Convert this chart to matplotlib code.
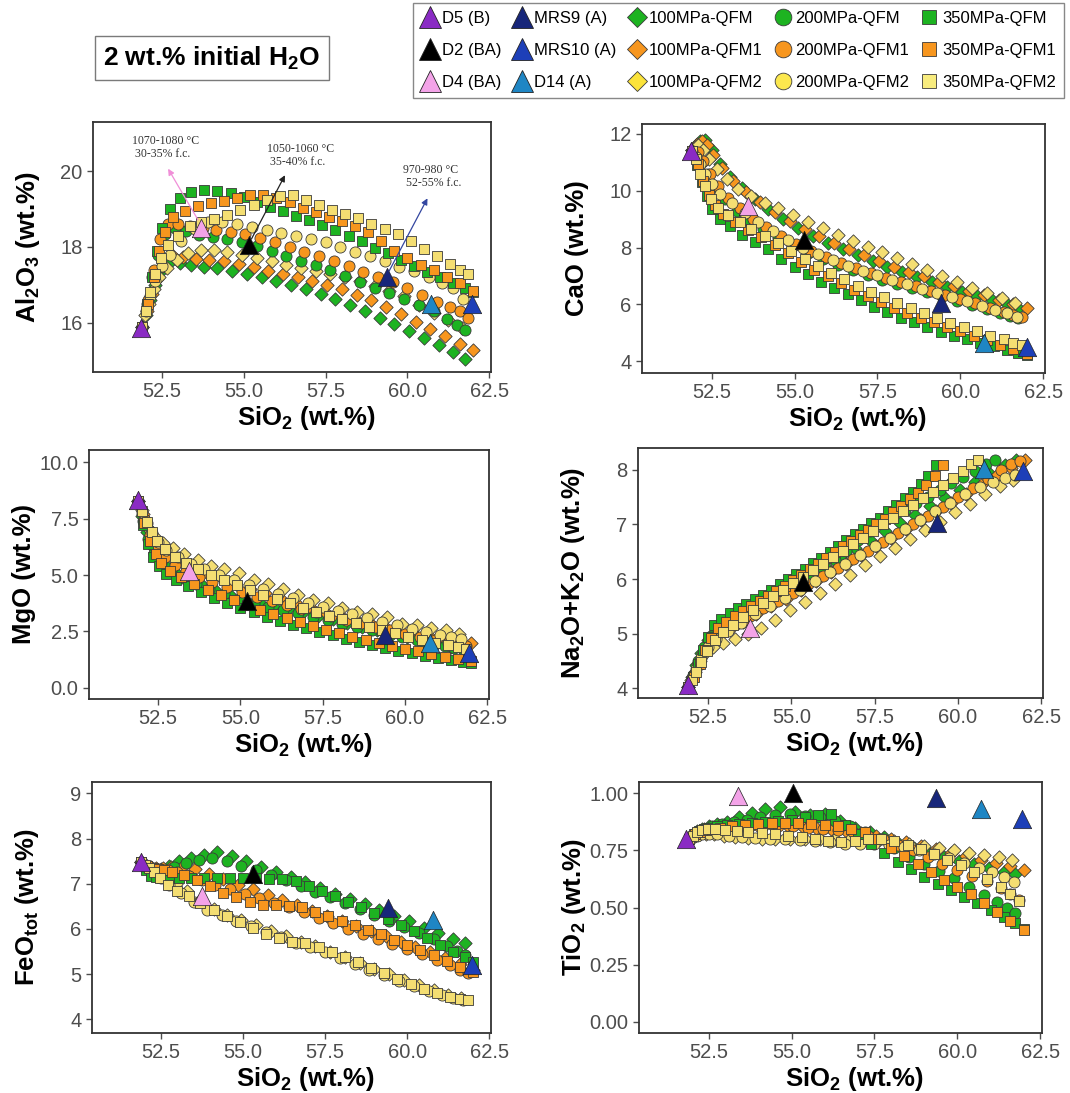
import matplotlib
matplotlib.use('Agg')
import matplotlib.pyplot as plt
from matplotlib.lines import Line2D

plt.rcParams['font.family'] = ['Liberation Sans', 'DejaVu Sans']
plt.rcParams['mathtext.fontset'] = 'custom'
plt.rcParams['mathtext.rm'] = 'Liberation Sans:bold'
plt.rcParams['mathtext.default'] = 'rm'

# SiO2 of each model step (shared by all panels)
si_100_q0 = [51.9, 52.02, 52.15, 52.3, 52.5, 52.75, 53.05, 53.4, 53.8, 54.2, 54.65, 55.1, 55.55, 56.0, 56.45, 56.9, 57.35, 57.8, 58.25, 58.7, 59.15, 59.6, 60.05, 60.5, 60.95, 61.4, 61.75]
si_100_q1 = [51.9, 52.05, 52.2, 52.35, 52.55, 52.8, 53.15, 53.55, 53.95, 54.4, 54.85, 55.3, 55.75, 56.2, 56.65, 57.1, 57.55, 58.0, 58.45, 58.9, 59.35, 59.8, 60.25, 60.7, 61.15, 61.6, 62.0]
si_100_q2 = [51.9, 52.0, 52.1, 52.25, 52.42, 52.65, 52.95, 53.3, 53.7, 54.1, 54.5, 54.95, 55.4, 55.85, 56.3, 56.75, 57.2, 57.65, 58.1, 58.55, 59.0, 59.45, 59.9, 60.35, 60.8, 61.25, 61.65]
si_200_q0 = [51.9, 52.05, 52.2, 52.38, 52.6, 52.9, 53.25, 53.65, 54.05, 54.5, 54.95, 55.4, 55.85, 56.3, 56.75, 57.2, 57.65, 58.1, 58.55, 59.0, 59.45, 59.9, 60.35, 60.8, 61.2, 61.5, 61.75]
si_200_q1 = [51.9, 52.08, 52.25, 52.45, 52.7, 53.0, 53.35, 53.75, 54.15, 54.6, 55.05, 55.5, 55.95, 56.4, 56.85, 57.3, 57.75, 58.2, 58.65, 59.1, 59.55, 60.0, 60.45, 60.9, 61.3, 61.6, 61.85]
si_200_q2 = [51.9, 52.02, 52.15, 52.3, 52.5, 52.75, 53.1, 53.5, 53.9, 54.35, 54.8, 55.25, 55.7, 56.15, 56.6, 57.05, 57.5, 57.95, 58.4, 58.85, 59.3, 59.75, 60.2, 60.65, 61.05, 61.4, 61.7]
si_350_q0 = [51.9, 52.05, 52.2, 52.35, 52.52, 52.75, 53.05, 53.4, 53.8, 54.2, 54.6, 55.0, 55.4, 55.8, 56.2, 56.6, 57.0, 57.4, 57.8, 58.2, 58.6, 59.0, 59.4, 59.8, 60.2, 60.6, 61.0, 61.4, 61.75, 62.0]
si_350_q1 = [51.9, 52.08, 52.25, 52.42, 52.6, 52.85, 53.2, 53.6, 54.0, 54.4, 54.8, 55.2, 55.6, 56.0, 56.4, 56.8, 57.2, 57.6, 58.0, 58.4, 58.8, 59.2, 59.6, 60.0, 60.4, 60.8, 61.2, 61.6, 62.0]
si_350_q2 = [51.9, 52.02, 52.15, 52.3, 52.48, 52.7, 53.0, 53.35, 53.7, 54.1, 54.5, 54.9, 55.3, 55.7, 56.1, 56.5, 56.9, 57.3, 57.7, 58.1, 58.5, 58.9, 59.3, 59.7, 60.1, 60.5, 60.9, 61.3, 61.6, 61.85]

# SiO2 steps as drawn in the Na2O+K2O panel where they differ
na_si_200_q0 = [51.9, 52.05, 52.2, 52.38, 52.6, 52.85, 53.15, 53.5, 53.85, 54.2, 54.55, 54.9, 55.25, 55.6, 55.95, 56.3, 56.65, 57.0, 57.35, 57.7, 58.05, 58.4, 58.75, 59.1, 59.45, 59.8, 60.15, 60.5, 60.85, 61.1]
na_si_350_q0 = [51.9, 52.05, 52.2, 52.35, 52.5, 52.68, 52.9, 53.15, 53.4, 53.65, 53.9, 54.15, 54.4, 54.65, 54.9, 55.15, 55.4, 55.65, 55.9, 56.15, 56.4, 56.65, 56.9, 57.15, 57.4, 57.65, 57.9, 58.15, 58.4, 58.65, 58.9, 59.1, 59.35]
na_si_350_q1 = [51.9, 52.08, 52.25, 52.42, 52.6, 52.8, 53.05, 53.3, 53.55, 53.8, 54.05, 54.3, 54.55, 54.8, 55.05, 55.3, 55.55, 55.8, 56.05, 56.3, 56.55, 56.8, 57.05, 57.3, 57.55, 57.8, 58.05, 58.3, 58.55, 58.8, 59.05, 59.3, 59.55]
na_si_350_q2 = [51.9, 52.02, 52.15, 52.3, 52.48, 52.7, 52.95, 53.25, 53.55, 53.85, 54.15, 54.45, 54.75, 55.05, 55.35, 55.65, 55.95, 56.25, 56.55, 56.85, 57.15, 57.45, 57.75, 58.05, 58.35, 58.65, 58.95, 59.25, 59.55, 59.85, 60.15, 60.4, 60.6]

# Al2O3
al_100_q0 = [15.9, 16.2, 16.6, 17.0, 17.4, 17.6, 17.58, 17.53, 17.48, 17.44, 17.37, 17.29, 17.2, 17.1, 17.0, 16.9, 16.77, 16.62, 16.47, 16.3, 16.12, 15.96, 15.77, 15.6, 15.4, 15.22, 15.05]
al_100_q1 = [15.9, 16.3, 16.75, 17.15, 17.5, 17.78, 17.74, 17.69, 17.66, 17.62, 17.56, 17.46, 17.37, 17.3, 17.2, 17.1, 16.99, 16.88, 16.74, 16.6, 16.42, 16.22, 16.03, 15.84, 15.64, 15.45, 15.28]
al_100_q2 = [15.9, 16.2, 16.5, 16.9, 17.2, 17.45, 17.65, 17.85, 17.93, 17.91, 17.86, 17.78, 17.7, 17.62, 17.52, 17.45, 17.37, 17.29, 17.21, 17.1, 16.98, 16.85, 16.7, 16.48, 16.26, 16.07, 15.85]
al_200_q0 = [15.9, 16.5, 17.2, 17.8, 18.35, 18.5, 18.42, 18.33, 18.27, 18.2, 18.12, 18.02, 17.9, 17.76, 17.63, 17.52, 17.39, 17.23, 17.08, 16.93, 16.78, 16.62, 16.46, 16.3, 16.1, 15.95, 15.8]
al_200_q1 = [15.9, 16.6, 17.4, 18.2, 18.62, 18.6, 18.56, 18.5, 18.45, 18.4, 18.35, 18.25, 18.13, 18.0, 17.86, 17.75, 17.62, 17.5, 17.35, 17.2, 17.08, 16.92, 16.72, 16.56, 16.42, 16.3, 16.12]
al_200_q2 = [15.9, 16.3, 16.7, 17.1, 17.5, 17.8, 18.15, 18.48, 18.65, 18.66, 18.6, 18.54, 18.46, 18.38, 18.28, 18.2, 18.12, 17.99, 17.87, 17.76, 17.62, 17.48, 17.36, 17.2, 17.06, 16.92, 16.62]
al_350_q0 = [15.9, 16.5, 17.2, 17.9, 18.5, 19.0, 19.3, 19.45, 19.5, 19.48, 19.42, 19.33, 19.2, 19.05, 18.95, 18.82, 18.7, 18.57, 18.45, 18.3, 18.15, 17.98, 17.83, 17.66, 17.5, 17.35, 17.2, 17.05, 16.92, 16.82]
al_350_q1 = [15.9, 16.5, 17.2, 17.9, 18.4, 18.8, 18.95, 19.08, 19.15, 19.22, 19.3, 19.36, 19.38, 19.3, 19.18, 19.03, 18.92, 18.8, 18.68, 18.55, 18.4, 18.15, 17.9, 17.7, 17.52, 17.38, 17.22, 17.05, 16.85]
al_350_q2 = [15.9, 16.3, 16.8, 17.3, 17.7, 18.05, 18.3, 18.55, 18.65, 18.75, 18.85, 18.98, 19.12, 19.25, 19.35, 19.36, 19.25, 19.1, 18.98, 18.88, 18.76, 18.62, 18.48, 18.35, 18.15, 17.95, 17.75, 17.55, 17.4, 17.28]

# CaO
ca_100_q0 = [11.45, 11.6, 11.75, 11.8, 11.45, 10.95, 10.5, 10.1, 9.7, 9.35, 9.0, 8.7, 8.42, 8.17, 7.95, 7.73, 7.52, 7.32, 7.14, 6.97, 6.8, 6.62, 6.45, 6.3, 6.15, 6.0, 5.88]
ca_100_q1 = [11.45, 11.65, 11.75, 11.6, 11.25, 10.8, 10.35, 9.95, 9.6, 9.25, 8.93, 8.65, 8.4, 8.16, 7.94, 7.73, 7.52, 7.33, 7.15, 6.98, 6.8, 6.63, 6.47, 6.32, 6.16, 6.0, 5.88]
ca_100_q2 = [11.45, 11.55, 11.6, 11.45, 11.1, 10.75, 10.4, 10.05, 9.8, 9.58, 9.4, 9.15, 8.9, 8.68, 8.45, 8.24, 8.02, 7.84, 7.63, 7.43, 7.22, 7.0, 6.8, 6.58, 6.4, 6.22, 6.06]
ca_200_q0 = [11.4, 11.3, 11.0, 10.6, 10.15, 9.7, 9.3, 8.95, 8.65, 8.35, 8.05, 7.8, 7.58, 7.38, 7.2, 7.03, 6.87, 6.72, 6.57, 6.43, 6.28, 6.13, 5.98, 5.84, 5.7, 5.6, 5.52]
ca_200_q1 = [11.4, 11.35, 11.05, 10.6, 10.15, 9.75, 9.38, 9.02, 8.72, 8.42, 8.13, 7.88, 7.66, 7.45, 7.27, 7.1, 6.94, 6.78, 6.63, 6.48, 6.33, 6.18, 6.03, 5.88, 5.74, 5.63, 5.55]
ca_200_q2 = [11.4, 11.2, 10.95, 10.6, 10.25, 9.9, 9.55, 9.2, 8.9, 8.58, 8.28, 8.0, 7.76, 7.55, 7.35, 7.18, 7.02, 6.86, 6.7, 6.55, 6.4, 6.25, 6.1, 5.95, 5.8, 5.68, 5.55]
ca_350_q0 = [11.4, 10.9, 10.3, 9.8, 9.35, 9.0, 8.75, 8.45, 8.2, 7.95, 7.6, 7.3, 7.05, 6.8, 6.58, 6.36, 6.14, 5.92, 5.72, 5.53, 5.37, 5.2, 5.03, 4.88, 4.76, 4.64, 4.52, 4.4, 4.3, 4.22]
ca_350_q1 = [11.4, 10.95, 10.35, 9.85, 9.5, 9.18, 8.9, 8.62, 8.38, 8.1, 7.8, 7.5, 7.22, 6.98, 6.75, 6.52, 6.3, 6.08, 5.88, 5.7, 5.52, 5.36, 5.2, 5.05, 4.9, 4.74, 4.58, 4.42, 4.25]
ca_350_q2 = [11.4, 11.1, 10.6, 10.15, 9.7, 9.4, 9.15, 8.9, 8.65, 8.4, 8.15, 7.88, 7.6, 7.35, 7.1, 6.88, 6.66, 6.45, 6.25, 6.05, 5.88, 5.7, 5.52, 5.35, 5.2, 5.05, 4.9, 4.76, 4.65, 4.55]

# MgO
mg_100_q0 = [8.3, 7.6, 6.9, 6.3, 5.8, 5.4, 5.1, 4.85, 4.6, 4.38, 4.15, 3.95, 3.8, 3.62, 3.48, 3.35, 3.2, 3.05, 2.88, 2.7, 2.55, 2.4, 2.25, 2.08, 1.93, 1.8, 1.68]
mg_100_q1 = [8.3, 7.7, 7.1, 6.7, 6.3, 6.0, 5.7, 5.4, 5.15, 4.9, 4.62, 4.4, 4.2, 3.98, 3.8, 3.6, 3.42, 3.25, 3.08, 2.9, 2.74, 2.58, 2.44, 2.32, 2.2, 2.08, 1.98]
mg_100_q2 = [8.3, 7.9, 7.5, 7.0, 6.65, 6.42, 6.18, 5.92, 5.68, 5.42, 5.25, 5.1, 4.8, 4.6, 4.4, 4.12, 3.9, 3.78, 3.55, 3.38, 3.28, 3.12, 2.85, 2.77, 2.63, 2.54, 2.4]
mg_200_q0 = [8.3, 7.4, 6.6, 6.0, 5.55, 5.15, 4.88, 4.62, 4.4, 4.16, 3.95, 3.77, 3.6, 3.44, 3.3, 3.15, 3.0, 2.85, 2.7, 2.55, 2.4, 2.25, 2.1, 1.97, 1.85, 1.76, 1.7]
mg_200_q1 = [8.3, 7.5, 6.8, 6.2, 5.8, 5.45, 5.18, 4.92, 4.7, 4.46, 4.24, 4.04, 3.86, 3.68, 3.5, 3.34, 3.18, 3.02, 2.86, 2.7, 2.55, 2.4, 2.26, 2.12, 2.0, 1.92, 1.85]
mg_200_q2 = [8.3, 7.8, 7.3, 6.85, 6.45, 6.1, 5.8, 5.5, 5.25, 5.0, 4.77, 4.56, 4.36, 4.16, 3.97, 3.78, 3.6, 3.42, 3.25, 3.08, 2.92, 2.77, 2.62, 2.48, 2.35, 2.25, 2.15]
mg_350_q0 = [8.3, 7.2, 6.4, 5.8, 5.4, 5.05, 4.78, 4.52, 4.25, 4.0, 3.78, 3.55, 3.35, 3.15, 2.97, 2.8, 2.63, 2.47, 2.32, 2.17, 2.03, 1.9, 1.77, 1.65, 1.53, 1.42, 1.32, 1.22, 1.15, 1.1]
mg_350_q1 = [8.3, 7.3, 6.5, 5.95, 5.55, 5.2, 4.9, 4.6, 4.35, 4.12, 3.9, 3.68, 3.47, 3.27, 3.08, 2.9, 2.73, 2.57, 2.42, 2.27, 2.13, 2.0, 1.87, 1.74, 1.62, 1.5, 1.38, 1.27, 1.17]
mg_350_q2 = [8.3, 7.85, 7.35, 6.9, 6.5, 6.15, 5.82, 5.52, 5.27, 5.02, 4.78, 4.56, 4.34, 4.13, 3.93, 3.74, 3.55, 3.37, 3.2, 3.03, 2.87, 2.71, 2.56, 2.41, 2.27, 2.13, 2.0, 1.88, 1.8, 1.73]

# Na2O+K2O
na_100_q0 = [4.02, 4.2, 4.42, 4.65, 4.88, 5.05, 5.18, 5.32, 5.47, 5.61, 5.77, 5.92, 6.08, 6.24, 6.4, 6.56, 6.72, 6.88, 7.03, 7.18, 7.33, 7.48, 7.63, 7.78, 7.93, 8.08, 8.18]
na_100_q1 = [4.02, 4.22, 4.45, 4.65, 4.82, 4.95, 5.08, 5.22, 5.36, 5.5, 5.64, 5.8, 5.96, 6.12, 6.28, 6.44, 6.6, 6.76, 6.92, 7.08, 7.24, 7.4, 7.56, 7.72, 7.88, 8.04, 8.18]
na_100_q2 = [4.02, 4.15, 4.3, 4.5, 4.65, 4.75, 4.83, 4.9, 5.0, 5.1, 5.25, 5.43, 5.58, 5.74, 5.9, 6.08, 6.25, 6.42, 6.56, 6.73, 6.9, 7.05, 7.22, 7.38, 7.55, 7.7, 7.82]
na_200_q0 = [4.02, 4.25, 4.5, 4.75, 4.95, 5.08, 5.2, 5.32, 5.45, 5.57, 5.68, 5.8, 5.93, 6.06, 6.2, 6.35, 6.52, 6.72, 6.88, 7.02, 7.14, 7.26, 7.39, 7.51, 7.63, 7.75, 7.86, 7.97, 8.1, 8.18]
na_200_q1 = [4.02, 4.25, 4.5, 4.72, 4.9, 5.05, 5.18, 5.32, 5.46, 5.6, 5.75, 5.9, 6.05, 6.2, 6.36, 6.52, 6.68, 6.84, 7.0, 7.16, 7.32, 7.5, 7.67, 7.84, 8.0, 8.1, 8.17]
na_200_q2 = [4.02, 4.18, 4.35, 4.55, 4.75, 4.9, 5.05, 5.2, 5.35, 5.5, 5.65, 5.8, 5.96, 6.12, 6.28, 6.44, 6.6, 6.76, 6.92, 7.08, 7.24, 7.4, 7.55, 7.68, 7.78, 7.85, 7.9]
na_350_q0 = [4.02, 4.2, 4.45, 4.7, 4.93, 5.15, 5.27, 5.37, 5.46, 5.55, 5.63, 5.71, 5.8, 5.9, 6.0, 6.1, 6.19, 6.29, 6.39, 6.5, 6.61, 6.72, 6.82, 6.92, 7.02, 7.12, 7.24, 7.36, 7.48, 7.6, 7.74, 7.88, 8.08]
na_350_q1 = [4.02, 4.2, 4.45, 4.7, 4.92, 5.1, 5.22, 5.32, 5.42, 5.51, 5.6, 5.69, 5.78, 5.88, 5.98, 6.08, 6.18, 6.28, 6.38, 6.49, 6.6, 6.7, 6.8, 6.9, 7.0, 7.1, 7.22, 7.34, 7.46, 7.58, 7.72, 7.88, 8.08]
na_350_q2 = [4.02, 4.15, 4.3, 4.48, 4.68, 4.88, 5.03, 5.16, 5.3, 5.43, 5.56, 5.68, 5.8, 5.92, 6.04, 6.16, 6.28, 6.4, 6.52, 6.64, 6.76, 6.88, 7.0, 7.12, 7.24, 7.36, 7.48, 7.6, 7.72, 7.85, 7.98, 8.1, 8.18]

# FeO tot
fe_100_q0 = [7.48, 7.4, 7.33, 7.3, 7.32, 7.4, 7.5, 7.58, 7.64, 7.7, 7.62, 7.5, 7.38, 7.26, 7.14, 7.04, 6.9, 6.78, 6.67, 6.55, 6.42, 6.28, 6.17, 6.02, 5.92, 5.78, 5.68]
fe_100_q1 = [7.48, 7.42, 7.38, 7.35, 7.35, 7.37, 7.38, 7.32, 7.22, 7.1, 6.98, 6.88, 6.76, 6.64, 6.52, 6.4, 6.28, 6.17, 6.06, 5.95, 5.84, 5.72, 5.6, 5.48, 5.36, 5.22, 5.1]
fe_100_q2 = [7.48, 7.4, 7.35, 7.3, 7.25, 7.17, 7.0, 6.83, 6.63, 6.44, 6.32, 6.2, 6.08, 5.96, 5.84, 5.72, 5.62, 5.5, 5.37, 5.24, 5.12, 5.0, 4.88, 4.76, 4.64, 4.55, 4.47]
fe_200_q0 = [7.48, 7.35, 7.25, 7.25, 7.3, 7.38, 7.45, 7.52, 7.58, 7.5, 7.4, 7.3, 7.2, 7.08, 6.95, 6.82, 6.7, 6.58, 6.45, 6.32, 6.18, 6.05, 5.92, 5.78, 5.62, 5.52, 5.42]
fe_200_q1 = [7.48, 7.4, 7.35, 7.32, 7.3, 7.25, 7.18, 7.08, 6.98, 6.88, 6.78, 6.68, 6.58, 6.48, 6.37, 6.25, 6.13, 6.0, 5.88, 5.78, 5.66, 5.56, 5.44, 5.32, 5.2, 5.1, 5.03]
fe_200_q2 = [7.48, 7.38, 7.3, 7.22, 7.12, 6.98, 6.8, 6.6, 6.42, 6.3, 6.18, 6.06, 5.94, 5.82, 5.7, 5.6, 5.48, 5.36, 5.23, 5.1, 4.98, 4.86, 4.74, 4.62, 4.54, 4.47, 4.42]
fe_350_q0 = [7.48, 7.3, 7.18, 7.15, 7.13, 7.12, 7.12, 7.12, 7.12, 7.12, 7.12, 7.12, 7.12, 7.11, 7.1, 7.05, 6.95, 6.83, 6.72, 6.6, 6.48, 6.35, 6.22, 6.08, 5.95, 5.8, 5.65, 5.5, 5.38, 5.28]
fe_350_q1 = [7.48, 7.4, 7.35, 7.32, 7.3, 7.27, 7.2, 7.08, 6.95, 6.8, 6.7, 6.6, 6.53, 6.52, 6.51, 6.48, 6.38, 6.28, 6.18, 6.08, 5.98, 5.88, 5.76, 5.65, 5.53, 5.42, 5.3, 5.17, 5.05]
fe_350_q2 = [7.48, 7.42, 7.35, 7.25, 7.12, 6.98, 6.85, 6.72, 6.58, 6.42, 6.28, 6.15, 6.02, 5.9, 5.8, 5.72, 5.68, 5.6, 5.5, 5.38, 5.26, 5.14, 5.02, 4.9, 4.78, 4.67, 4.58, 4.5, 4.45, 4.42]

# TiO2
ti_100_q0 = [0.80, 0.82, 0.835, 0.845, 0.855, 0.865, 0.875, 0.895, 0.912, 0.93, 0.94, 0.92, 0.905, 0.91, 0.88, 0.85, 0.83, 0.81, 0.78, 0.76, 0.74, 0.72, 0.705, 0.69, 0.675, 0.655, 0.645]
ti_100_q1 = [0.80, 0.82, 0.835, 0.845, 0.85, 0.855, 0.86, 0.86, 0.86, 0.86, 0.86, 0.855, 0.85, 0.845, 0.835, 0.825, 0.815, 0.8, 0.785, 0.77, 0.755, 0.74, 0.725, 0.71, 0.695, 0.68, 0.665]
ti_100_q2 = [0.80, 0.81, 0.815, 0.82, 0.82, 0.82, 0.815, 0.81, 0.805, 0.80, 0.80, 0.80, 0.80, 0.80, 0.80, 0.80, 0.80, 0.795, 0.79, 0.78, 0.77, 0.76, 0.75, 0.74, 0.73, 0.72, 0.71]
ti_200_q0 = [0.80, 0.82, 0.835, 0.845, 0.855, 0.865, 0.875, 0.885, 0.895, 0.905, 0.91, 0.9, 0.895, 0.88, 0.855, 0.83, 0.8, 0.76, 0.72, 0.69, 0.66, 0.63, 0.59, 0.555, 0.525, 0.5, 0.478]
ti_200_q1 = [0.80, 0.82, 0.83, 0.84, 0.845, 0.85, 0.855, 0.855, 0.855, 0.855, 0.855, 0.85, 0.845, 0.84, 0.83, 0.815, 0.8, 0.775, 0.75, 0.72, 0.69, 0.665, 0.64, 0.615, 0.585, 0.56, 0.535]
ti_200_q2 = [0.80, 0.81, 0.815, 0.82, 0.82, 0.82, 0.815, 0.81, 0.805, 0.80, 0.80, 0.795, 0.79, 0.785, 0.78, 0.78, 0.78, 0.775, 0.765, 0.75, 0.735, 0.715, 0.695, 0.675, 0.655, 0.635, 0.61]
ti_350_q0 = [0.80, 0.82, 0.835, 0.845, 0.85, 0.855, 0.86, 0.865, 0.87, 0.875, 0.88, 0.885, 0.895, 0.905, 0.91, 0.86, 0.82, 0.78, 0.74, 0.70, 0.67, 0.635, 0.605, 0.575, 0.548, 0.52, 0.49, 0.46, 0.43, 0.405]
ti_350_q1 = [0.80, 0.82, 0.83, 0.84, 0.845, 0.85, 0.855, 0.86, 0.865, 0.87, 0.87, 0.87, 0.865, 0.86, 0.855, 0.845, 0.83, 0.8, 0.76, 0.725, 0.69, 0.655, 0.62, 0.59, 0.56, 0.52, 0.48, 0.44, 0.40]
ti_350_q2 = [0.80, 0.815, 0.83, 0.84, 0.845, 0.845, 0.84, 0.835, 0.83, 0.825, 0.82, 0.815, 0.81, 0.8, 0.79, 0.785, 0.79, 0.80, 0.80, 0.79, 0.775, 0.755, 0.735, 0.71, 0.685, 0.655, 0.625, 0.59, 0.56, 0.53]

# natural samples: D5, D2, D4, MRS9, MRS10, D14
samples = ['D5 (B)', 'D2 (BA)', 'D4 (BA)', 'MRS9 (A)', 'MRS10 (A)', 'D14 (A)']
sample_colors = ['#8A2BC4', '#000000', '#F3A3E8', '#17267A', '#1D3FB8', '#1F86C4']
smp_si_al = [51.88, 55.15, 53.7, 59.36, 61.98, 60.73]
smp_al = [15.85, 18.05, 18.5, 17.2, 16.5, 16.5]
smp_si_ca = [51.88, 55.27, 53.6, 59.4, 62.0, 60.72]
smp_ca = [11.4, 8.25, 9.45, 6.05, 4.5, 4.65]
smp_si_mg = [51.88, 55.2, 53.44, 59.39, 61.95, 60.75]
smp_mg = [8.35, 3.85, 5.2, 2.35, 1.55, 2.0]
smp_si_na = [51.9, 55.36, 53.75, 59.37, 61.96, 60.77]
smp_na = [4.05, 5.95, 5.1, 7.02, 7.97, 8.02]
smp_si_fe = [51.88, 55.3, 53.75, 59.4, 61.98, 60.77]
smp_fe = [7.48, 7.22, 6.72, 6.47, 5.2, 6.2]
smp_si_ti = [51.83, 55.04, 53.37, 59.36, 61.96, 60.7]
smp_ti = [0.80, 1.00, 0.99, 0.98, 0.886, 0.93]

GREEN = '#1DB321'
ORANGE = '#F7961E'
YELLOW = '#F4DE72'
EDGE = '#3a3a3a'

model_names = ['100MPa-QFM', '100MPa-QFM1', '100MPa-QFM2',
               '200MPa-QFM', '200MPa-QFM1', '200MPa-QFM2',
               '350MPa-QFM', '350MPa-QFM1', '350MPa-QFM2']
model_markers = ['D', 'D', 'D', 'o', 'o', 'o', 's', 's', 's']
model_colors = [GREEN, ORANGE, YELLOW] * 3
legend_colors = [GREEN, ORANGE, '#FBE33A', GREEN, ORANGE, '#FCE84E', GREEN, ORANGE, '#F8EC7E']
model_si = [si_100_q0, si_100_q1, si_100_q2, si_200_q0, si_200_q1, si_200_q2,
            si_350_q0, si_350_q1, si_350_q2]
marker_area = {'D': 46, 'o': 64, 's': 54}

W, H = 1070, 1093

def rect(l, t, r, b):
    return [l / W, 1 - b / H, (r - l) / W, (b - t) / H]

panels = [
    dict(ylabel='Al$_2$O$_3$ (wt.%)', box=(93, 122, 491, 372), ylim=(14.7, 21.3),
         yticks=[16, 18, 20], fmt='{:.0f}', ys=[al_100_q0, al_100_q1, al_100_q2, al_200_q0, al_200_q1, al_200_q2, al_350_q0, al_350_q1, al_350_q2],
         sx=smp_si_al, sy=smp_al),
    dict(ylabel='CaO (wt.%)', box=(642, 124, 1045, 373), ylim=(3.58, 12.35),
         yticks=[4, 6, 8, 10, 12], fmt='{:.0f}', ys=[ca_100_q0, ca_100_q1, ca_100_q2, ca_200_q0, ca_200_q1, ca_200_q2, ca_350_q0, ca_350_q1, ca_350_q2],
         sx=smp_si_ca, sy=smp_ca),
    dict(ylabel='MgO (wt.%)', box=(89, 450, 489, 699), ylim=(-0.5, 10.55),
         yticks=[0, 2.5, 5, 7.5, 10], fmt='{:.1f}', ys=[mg_100_q0, mg_100_q1, mg_100_q2, mg_200_q0, mg_200_q1, mg_200_q2, mg_350_q0, mg_350_q1, mg_350_q2],
         sx=smp_si_mg, sy=smp_mg),
    dict(ylabel='Na$_2$O+K$_2$O (wt.%)', box=(638, 448, 1043, 698), ylim=(3.82, 8.4),
         yticks=[4, 5, 6, 7, 8], fmt='{:.0f}', ys=[na_100_q0, na_100_q1, na_100_q2, na_200_q0, na_200_q1, na_200_q2, na_350_q0, na_350_q1, na_350_q2],
         sx=smp_si_na, sy=smp_na,
         xs={3: na_si_200_q0, 6: na_si_350_q0, 7: na_si_350_q1, 8: na_si_350_q2}),
    dict(ylabel='FeO$_{tot}$ (wt.%)', box=(92, 782, 491, 1033), ylim=(3.7, 9.25),
         yticks=[4, 5, 6, 7, 8, 9], fmt='{:.0f}', ys=[fe_100_q0, fe_100_q1, fe_100_q2, fe_200_q0, fe_200_q1, fe_200_q2, fe_350_q0, fe_350_q1, fe_350_q2],
         sx=smp_si_fe, sy=smp_fe),
    dict(ylabel='TiO$_2$ (wt.%)', box=(639, 782, 1042, 1033), ylim=(-0.05, 1.05),
         yticks=[0, 0.25, 0.5, 0.75, 1.0], fmt='{:.2f}', ys=[ti_100_q0, ti_100_q1, ti_100_q2, ti_200_q0, ti_200_q1, ti_200_q2, ti_350_q0, ti_350_q1, ti_350_q2],
         sx=smp_si_ti, sy=smp_ti),
]

fig = plt.figure(figsize=(W / 100, H / 100), dpi=100)
axes = []
for p in panels:
    l, t, r, b = p['box']
    ax = fig.add_axes(rect(l, t, r, b))
    for i in range(9):
        xs = p.get('xs', {}).get(i, model_si[i])
        ax.scatter(xs, p['ys'][i], marker=model_markers[i], s=marker_area[model_markers[i]],
                   c=model_colors[i], edgecolors=EDGE, linewidths=0.6, zorder=2 + i * 0.01)
    for j in range(len(samples)):
        ax.scatter(p['sx'][j], p['sy'][j], marker='^', s=175, c=sample_colors[j],
                   edgecolors='#222222', linewidths=0.5, zorder=5)
    ax.set_xlim(50.4, 62.55)
    ax.set_ylim(*p['ylim'])
    ax.set_xticks([52.5, 55.0, 57.5, 60.0, 62.5])
    ax.set_xticklabels(['52.5', '55.0', '57.5', '60.0', '62.5'])
    ax.set_yticks(p['yticks'])
    ax.set_yticklabels([p['fmt'].format(v) for v in p['yticks']])
    ax.tick_params(labelsize=14.5, labelcolor='#4d4d4d', color='#4d4d4d', length=4, width=1)
    for sp in ax.spines.values():
        sp.set_color('#333333')
        sp.set_linewidth(1.3)
    # axis labels
    fig.text((l + r) / 2 / W + 14 / W, 1 - (b + 46) / H, 'SiO$_2$ (wt.%)', ha='center', va='center',
             fontsize=18.5, fontweight='bold')
    fig.text((l - 65) / W, 1 - (t + b) / 2 / H, p['ylabel'], ha='center', va='center',
             rotation=90, fontsize=18.5, fontweight='bold')
    axes.append(ax)

# temperature / crystallinity notes on the Al2O3 panel
ax = axes[0]
notes = [('1070-1080 \u00b0C\n 30-35% f.c.', (51.6, 20.95), (53.65, 18.65), (52.65, 20.13), '#F08FD8'),
         ('1050-1060 \u00b0C\n 35-40% f.c.', (55.7, 20.75), (55.2, 18.15), (56.3, 19.96), '#222222'),
         ('970-980 \u00b0C\n 52-55% f.c.', (59.85, 20.2), (59.4, 17.3), (60.65, 19.35), '#3346A0')]
for txt, tpos, start, tip, col in notes:
    ax.text(tpos[0], tpos[1], txt, ha='left', va='top', fontsize=8.5,
            family=['Liberation Serif', 'DejaVu Serif'], color='#333333', linespacing=1.1, zorder=6)
    ax.annotate('', xy=tip, xytext=start,
                arrowprops=dict(arrowstyle='-|>', color=col, lw=0.9, mutation_scale=9), zorder=6)

# title box
fig.text(212 / W, 1 - 58 / H, '2 wt.% initial H$_2$O', ha='center', va='center', fontsize=19,
         fontweight='bold', bbox=dict(boxstyle='square,pad=0.3', fc='white', ec='#7a7a7a', lw=1))

# legend
handles, labels = [], []
for j in range(len(samples)):
    handles.append(Line2D([], [], ls='none', marker='^', markersize=16, mfc=sample_colors[j],
                          mec='#222222', mew=0.6))
    labels.append(samples[j])
leg_size = {'D': 10, 'o': 12, 's': 10.5}
for i in range(9):
    handles.append(Line2D([], [], ls='none', marker=model_markers[i], markersize=leg_size[model_markers[i]],
                          mfc=legend_colors[i], mec=EDGE, mew=0.6))
    labels.append(model_names[i])
leg = fig.legend(handles, labels, ncol=5, loc='upper left',
                 bbox_to_anchor=(413 / W, 1 - 3 / H), fontsize=12, frameon=True, fancybox=False,
                 edgecolor='#6a6a6a', handlelength=1.0, handletextpad=0.25, columnspacing=0.7,
                 labelspacing=1.0, borderpad=0.5, borderaxespad=0)
leg.get_frame().set_linewidth(1.0)

fig.savefig('out.png', dpi=100, facecolor='white')
